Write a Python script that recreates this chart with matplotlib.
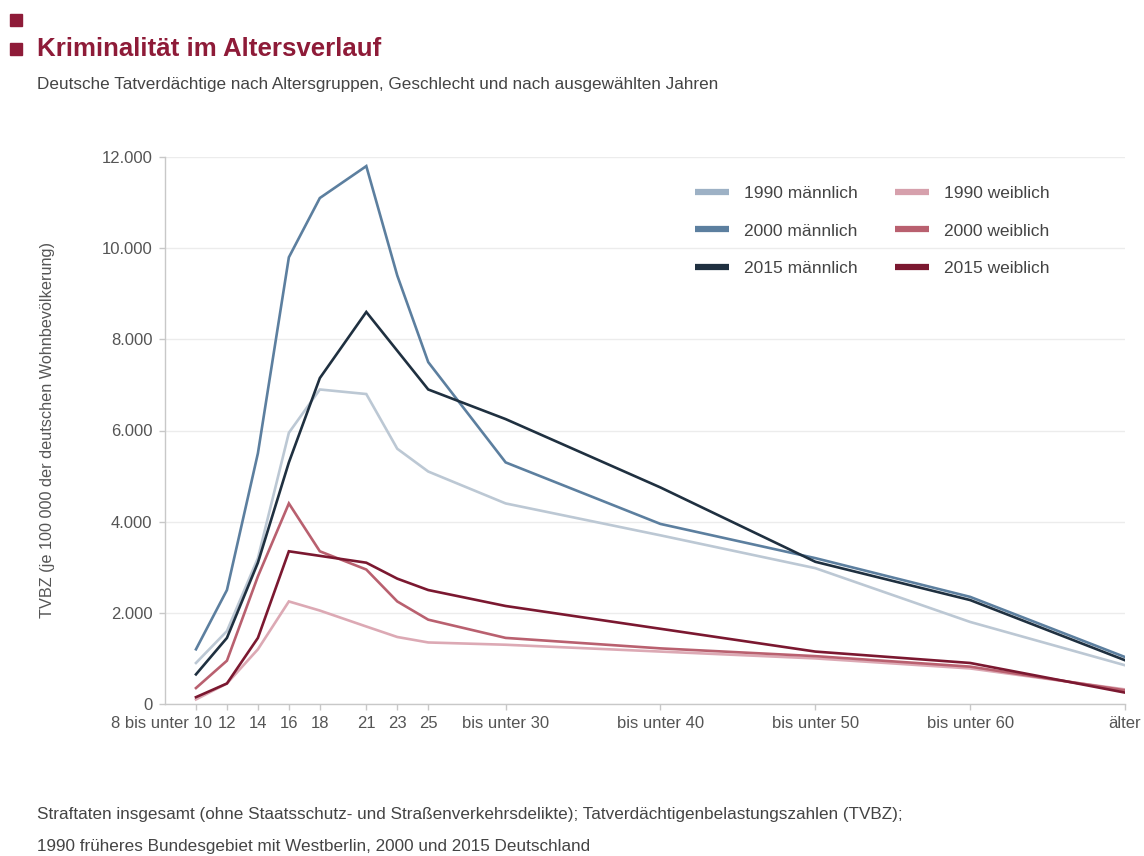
import matplotlib.pyplot as plt
import matplotlib.transforms as mtransforms
from matplotlib.ticker import FuncFormatter
from matplotlib.patches import Rectangle

plt.rcParams['font.family'] = ['Liberation Sans', 'DejaVu Sans']

# Altersgruppen (Obergrenze in Jahren, "älter" bei 70)
alter = [10, 12, 14, 16, 18, 21, 23, 25, 30, 40, 50, 60, 70]
alter_labels = ['8 bis unter 10', '12', '14', '16', '18', '21', '23', '25',
                'bis unter 30', 'bis unter 40', 'bis unter 50', 'bis unter 60', 'älter']

# TVBZ je 100 000 der deutschen Wohnbevölkerung
m_1990 = [900, 1600, 3200, 5950, 6900, 6800, 5600, 5100, 4400, 3700, 2980, 1800, 850]
m_2000 = [1200, 2500, 5500, 9800, 11100, 11800, 9400, 7500, 5300, 3950, 3200, 2350, 1030]
m_2015 = [650, 1450, 3100, 5300, 7150, 8600, 7750, 6900, 6250, 4750, 3120, 2280, 960]
w_1990 = [100, 450, 1200, 2250, 2050, 1700, 1470, 1350, 1300, 1150, 1000, 780, 320]
w_2000 = [350, 950, 2800, 4400, 3350, 2950, 2250, 1850, 1450, 1220, 1050, 820, 300]
w_2015 = [150, 450, 1450, 3350, 3250, 3100, 2750, 2500, 2150, 1650, 1150, 900, 250]

serien = [
    ('1990 männlich', m_1990, '#bcc8d4', '#9db1c5'),
    ('2000 männlich', m_2000, '#5c7f9f', '#5c7f9f'),
    ('2015 männlich', m_2015, '#1f3040', '#1f3040'),
    ('1990 weiblich', w_1990, '#dca9b4', '#d6a0ac'),
    ('2000 weiblich', w_2000, '#b9606f', '#b9606f'),
    ('2015 weiblich', w_2015, '#7b1830', '#7b1830'),
]

text_grau = '#555555'
achse_grau = '#c8c8c8'
dunkelrot = '#8e1b38'

fig = plt.figure(figsize=(11.44, 8.56), dpi=100)
ax = fig.add_axes([165 / 1144, 1 - 704 / 856, (1125 - 165) / 1144, (704 - 157) / 856])

linien = []
for name, werte, farbe, _ in serien:
    l, = ax.plot(alter, werte, color=farbe, linewidth=1.9, label=name,
                 solid_joinstyle='miter')
    linien.append(l)

ax.set_xlim(8, 70)
ax.set_ylim(0, 12000)
ax.set_yticks(range(0, 12001, 2000))
ax.yaxis.set_major_formatter(FuncFormatter(lambda v, p: f'{int(v):,}'.replace(',', '.')))
ax.set_xticks(alter)
ax.set_xticklabels(alter_labels)

ax.grid(axis='y', color='#ececec', linewidth=1)
ax.set_axisbelow(True)
for s in ['top', 'right']:
    ax.spines[s].set_visible(False)
for s in ['left', 'bottom']:
    ax.spines[s].set_color(achse_grau)
    ax.spines[s].set_linewidth(1)
ax.tick_params(axis='both', colors=achse_grau, labelcolor=text_grau,
               labelsize=12, length=4, width=1)
ax.tick_params(axis='x', pad=5)
ax.tick_params(axis='y', pad=5)

# Erste Beschriftung rechtsbündig, damit "10" unter dem Tick steht
first = ax.get_xticklabels()[0]
first.set_ha('right')
off = mtransforms.ScaledTranslation(16 / 100, 0, fig.dpi_scale_trans)
first.set_transform(first.get_transform() + off)

ax.set_ylabel('TVBZ (je 100 000 der deutschen Wohnbevölkerung)',
              fontsize=11.7, color=text_grau)
ax.yaxis.set_label_coords(-110 / 960, 0.5)

# Legende, spaltenweise: männlich links, weiblich rechts
leg = ax.legend(handles=linien, ncol=2, frameon=False, fontsize=12.5,
                loc='upper left', bbox_to_anchor=(686 / 1144, 1 - 177 / 856),
                bbox_transform=fig.transFigure, borderpad=0,
                handlelength=2.0, handletextpad=0.86, labelspacing=1.3,
                columnspacing=2.1)
for h, (_, _, _, lf) in zip(leg.get_lines(), serien):
    h.set_linewidth(4.5)
    h.set_color(lf)
    h.set_solid_capstyle('butt')
for t in leg.get_texts():
    t.set_color('#444444')

# Titelbereich
fig.patches.append(Rectangle((10 / 1144, 1 - 26 / 856), 12 / 1144, 12 / 856,
                             transform=fig.transFigure, color=dunkelrot))
fig.patches.append(Rectangle((10 / 1144, 1 - 55 / 856), 12 / 1144, 12 / 856,
                             transform=fig.transFigure, color=dunkelrot))
fig.text(37 / 1144, 1 - 49 / 856, 'Kriminalität im Altersverlauf', fontsize=18.6,
         fontweight='bold', color=dunkelrot, va='center')
fig.text(37 / 1144, 1 - 85 / 856,
         'Deutsche Tatverdächtige nach Altersgruppen, Geschlecht und nach ausgewählten Jahren',
         fontsize=12.35, color='#444444', va='center')

# Fußnote
fig.text(37 / 1144, 1 - 815 / 856,
         'Straftaten insgesamt (ohne Staatsschutz- und Straßenverkehrsdelikte); '
         'Tatverdächtigenbelastungszahlen (TVBZ);',
         fontsize=12.3, color='#444444', va='center')
fig.text(37 / 1144, 1 - 846 / 856,
         '1990 früheres Bundesgebiet mit Westberlin, 2000 und 2015 Deutschland',
         fontsize=12.3, color='#444444', va='center')

fig.savefig('out.png', dpi=100)
